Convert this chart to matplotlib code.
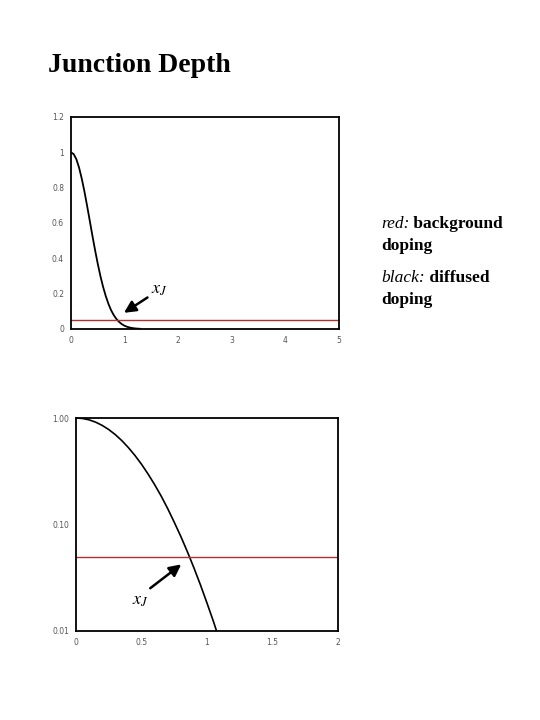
import numpy as np
import matplotlib.pyplot as plt

# diffused profile (normalised concentration vs depth)
depth = [0, 0.05, 0.1, 0.15, 0.2, 0.25, 0.3, 0.35, 0.4, 0.45, 0.5, 0.55, 0.6,
         0.65, 0.7, 0.75, 0.8, 0.85, 0.9, 0.95, 1.0, 1.05, 1.1, 1.15, 1.2,
         1.25, 1.28]
conc = [1.0, 0.990, 0.961, 0.914, 0.852, 0.779, 0.698, 0.613, 0.527, 0.445,
        0.368, 0.298, 0.237, 0.185, 0.141, 0.105, 0.0773, 0.0556, 0.0392,
        0.0271, 0.0183, 0.0122, 0.0079, 0.0050, 0.0032, 0.0019, 0.0014]
background = 0.05

top_xticks = [0, 1, 2, 3, 4, 5]
top_yticks = [0, 0.2, 0.4, 0.6, 0.8, 1, 1.2]
top_ylabels = ["0", "0.2", "0.4", "0.6", "0.8", "1", "1.2"]
bot_xticks = [0, 0.5, 1, 1.5, 2]
bot_xlabels = ["0", "0.5", "1", "1.5", "2"]
bot_yticks = [0.01, 0.1, 1]
bot_ylabels = ["0.01", "0.10", "1.00"]

plt.rcParams['mathtext.fontset'] = 'stix'

fig = plt.figure(figsize=(5.4, 7.2), dpi=100)

fig.text(48/540, 1 - 65/720, "Junction Depth", family="Liberation Serif",
         weight="bold", fontsize=20, va="center", ha="left")

tick_col = "#555555"
arrow = dict(arrowstyle="-|>,head_length=0.7,head_width=0.35",
             color="black", lw=1.8)

# linear plot
ax1 = fig.add_axes([71/540, 1 - 329/720, 268/540, 212/720])
ax1.plot(depth, conc, color="black", lw=1.3)
ax1.axhline(background, color="#b03030", lw=1.0)
ax1.set_xlim(0, 5)
ax1.set_ylim(0, 1.2)
ax1.set_xticks(top_xticks)
ax1.set_yticks(top_yticks)
ax1.set_yticklabels(top_ylabels)
ax1.tick_params(length=0, labelsize=5.5, labelcolor=tick_col, pad=5)
for s in ax1.spines.values():
    s.set_linewidth(1.3)
ax1.annotate("", xy=(0.945, 0.083), xytext=(1.47, 0.187), arrowprops=arrow)
ax1.text(1.64, 0.226, r"$x_J$", fontsize=13, ha="center", va="center")

# log plot
ax2 = fig.add_axes([76/540, 1 - 631/720, 262/540, 213/720])
ax2.plot(depth, conc, color="black", lw=1.2)
ax2.axhline(background, color="#b03030", lw=1.0)
ax2.set_yscale("log")
ax2.set_xlim(0, 2)
ax2.set_ylim(0.01, 1)
ax2.set_xticks(bot_xticks)
ax2.set_xticklabels(bot_xlabels)
ax2.set_yticks(bot_yticks)
ax2.set_yticklabels(bot_ylabels)
ax2.minorticks_off()
ax2.tick_params(length=0, labelsize=5.5, labelcolor=tick_col, pad=5)
for s in ax2.spines.values():
    s.set_linewidth(1.3)
ax2.annotate("", xy=(0.82, 0.0438), xytext=(0.55, 0.0243), arrowprops=arrow)
ax2.text(0.49, 0.0195, r"$x_J$", fontsize=13, ha="center", va="center")

# side note with mixed styles
fig.canvas.draw()
r = fig.canvas.get_renderer()

def mixed(x, y, first, rest):
    t = fig.text(x, y, first, family="Liberation Serif", style="italic",
                 fontsize=12.5, va="baseline", ha="left")
    w = t.get_window_extent(r).width / fig.bbox.width
    fig.text(x + w, y, rest, family="Liberation Serif", weight="bold",
             fontsize=12.5, va="baseline", ha="left")

fx = 381/540
mixed(fx, 1 - 228/720, "red:", " background")
fig.text(fx, 1 - 250/720, "doping", family="Liberation Serif", weight="bold",
         fontsize=12.5, va="baseline", ha="left")
mixed(fx, 1 - 282/720, "black:", " diffused")
fig.text(fx, 1 - 304/720, "doping", family="Liberation Serif", weight="bold",
         fontsize=12.5, va="baseline", ha="left")

fig.savefig("out.png", dpi=100)
